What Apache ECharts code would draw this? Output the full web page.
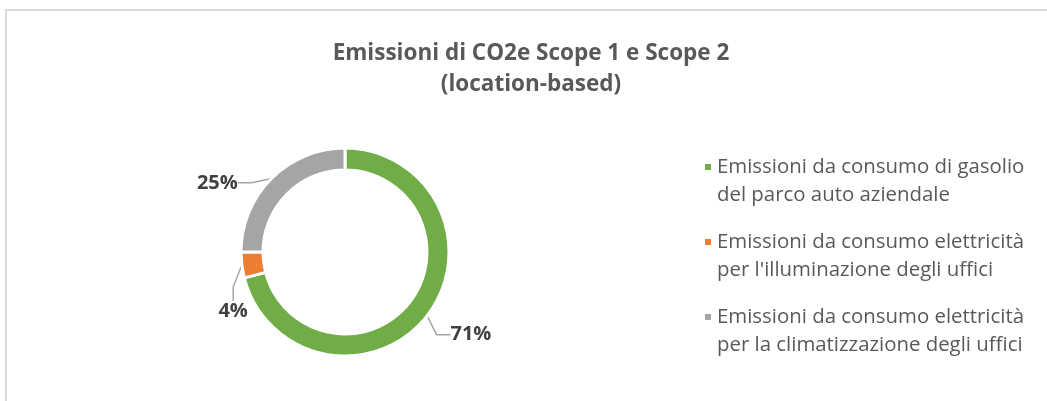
<!DOCTYPE html>
<html>
<head>
<meta charset="utf-8">
<script src="https://cdn.jsdelivr.net/npm/echarts@6/dist/echarts.min.js"></script>
<style>
  html, body { margin: 0; padding: 0; background: #fff; }
  #chart { width: 1047px; height: 401px; }
</style>
</head>
<body>
<div id="chart"></div>
<script>
// dati del grafico
var categories = [
  'Emissioni da consumo di gasolio\ndel parco auto aziendale',
  'Emissioni da consumo elettricità\nper l\'illuminazione degli uffici',
  'Emissioni da consumo elettricità\nper la climatizzazione degli uffici'
];
var values = [71, 4, 25]; // percentuali
var colors = ['#70ad47', '#ed7d31', '#a5a5a5'];

// spostamenti etichette (dx, dy) come nel grafico originale
var labelShift = [[-2, 14], [33, 45], [-9, 10]];

var myChart = echarts.init(document.getElementById('chart'));

var option = {
  backgroundColor: '#fff',
  color: colors,
  title: {
    text: 'Emissioni di CO2e Scope 1 e Scope 2\n(location-based)',
    left: 526,
    textAlign: 'center',
    top: 33,
    textStyle: {
      fontFamily: 'Open Sans',
      fontSize: 22.5,
      fontWeight: 'bold',
      color: '#595959',
      lineHeight: 31
    }
  },
  graphic: [
    { // cornice
      type: 'rect',
      shape: { x: 6, y: 10, width: 1200, height: 600 },
      style: { fill: 'none', stroke: '#d9d9d9', lineWidth: 2 },
      silent: true
    }
  ],
  legend: {
    orient: 'vertical',
    left: 698,
    top: 120,
    itemWidth: 8,
    itemHeight: 8,
    itemGap: -9,
    icon: 'rect',
    formatter: function (name) {
      return '\n' + name; // riga vuota per allineare il quadratino alla prima riga
    },
    textStyle: {
      fontFamily: 'Open Sans',
      fontSize: 20.4,
      color: '#595959',
      lineHeight: 28
    },
    data: categories
  },
  series: [
    {
      type: 'pie',
      center: [345, 252],
      radius: [82, 104],
      startAngle: 90,
      clockwise: true,
      itemStyle: { borderColor: '#fff', borderWidth: 3 },
      label: {
        show: true,
        position: 'outside',
        formatter: '{d}%',
        fontFamily: 'Open Sans',
        fontSize: 20,
        fontWeight: 'bold',
        color: '#404040'
      },
      labelLine: {
        show: true,
        length: 8,
        length2: 14,
        lineStyle: { color: '#a6a6a6', width: 1.5 }
      },
      labelLayout: function (params) {
        var s = labelShift[params.dataIndex];
        var r = params.labelRect;
        return {
          x: r.x + r.width / 2 + s[0],
          y: r.y + r.height / 2 + s[1],
          align: 'center',
          verticalAlign: 'middle'
        };
      },
      emphasis: { disabled: true },
      data: categories.map(function (name, i) {
        return { name: name, value: values[i] };
      })
    }
  ]
};
myChart.setOption(option);
</script>
</body>
</html>
